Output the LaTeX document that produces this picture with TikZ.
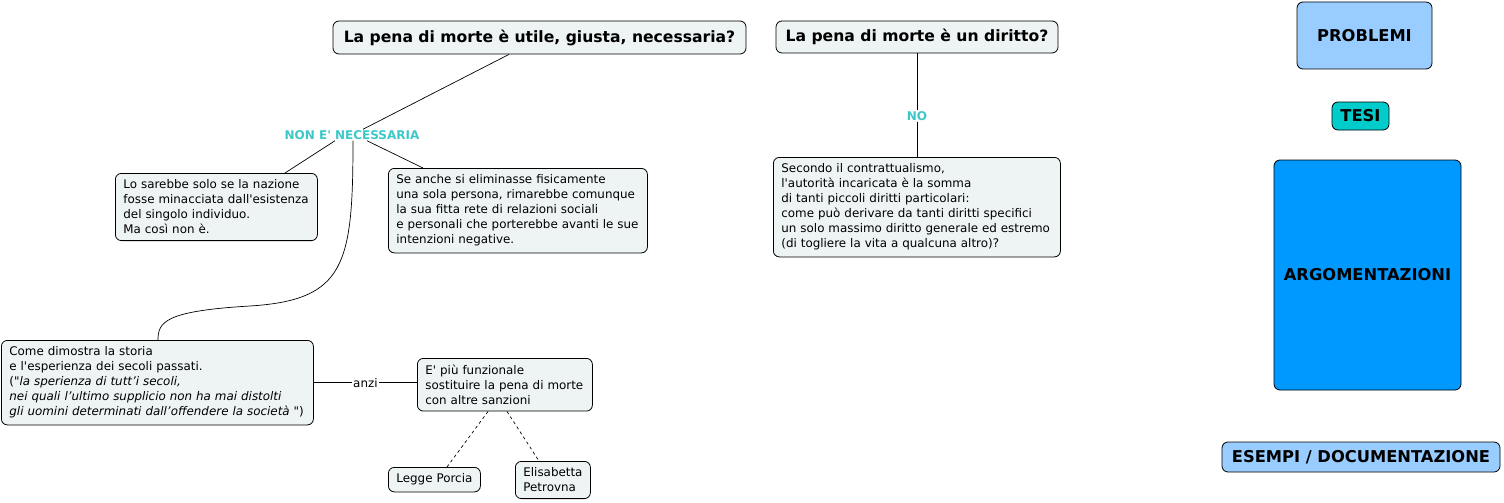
\documentclass[tikz,border=0pt]{standalone}
\usepackage{fontspec}
\setmainfont{DejaVu Sans}[Ligatures=TeXOff]
\usetikzlibrary{positioning}
\definecolor{boxfill}{HTML}{EEF4F4}
\definecolor{lblue}{HTML}{99CCFF}
\definecolor{teal1}{HTML}{00CCCC}
\definecolor{dblue}{HTML}{0099FF}
\definecolor{lbl}{HTML}{3CC8C8}
\begin{document}
\begin{tikzpicture}[x=1pt,y=-1pt,
  box/.style={draw=black, fill=boxfill, rounded corners=6pt, line width=0.8pt, align=left, inner xsep=8pt, inner ysep=6.5pt, font=\fontsize{11.9}{15}\selectfont, anchor=north west},
  title/.style={draw=black, fill=boxfill, rounded corners=6pt, line width=0.8pt, font=\fontsize{15.6}{18}\selectfont\bfseries},
  legend/.style={draw=black, rounded corners=6pt, line width=0.8pt, font=\fontsize{16.3}{18}\selectfont\bfseries},
  lab/.style={text=lbl, font=\fontsize{12}{14}\selectfont\bfseries, inner sep=1pt},
  conn/.style={line width=0.7pt}]
\useasboundingbox (0,0) rectangle (1504,503);

% titles
\node[title, minimum width=413pt, minimum height=33pt] (t1) at (539.5,37.5) {La pena di morte è utile, giusta, necessaria?};
\node[title, minimum width=282pt, minimum height=32pt] (t2) at (917,37) {La pena di morte è un diritto?};

% legend
\node[legend, fill=lblue, minimum width=135pt, minimum height=67pt] (prob) at (1364.5,35.5) {PROBLEMI};
\node[legend, fill=teal1, minimum width=57pt, minimum height=28pt] (tesi) at (1360.5,116) {TESI};
\node[legend, fill=dblue, minimum width=187pt, minimum height=230pt] (arg) at (1367.5,275) {ARGOMENTAZIONI};
\node[legend, fill=lblue, minimum width=278pt, minimum height=30pt] (esempi) at (1361,457) {ESEMPI / DOCUMENTAZIONE};

% labels
\node[lab] (nonnec) at (352,135) {NON E' NECESSARIA};
\node[lab] (no) at (917,116) {NO};

% boxes
\node[box, text width=186pt] (b1) at (115,173) {Lo sarebbe solo se la nazione\\fosse minacciata dall'esistenza\\del singolo individuo.\\Ma così non è.};
\node[box, text width=243pt] (b2) at (388,168) {Se anche si eliminasse fisicamente\\una sola persona, rimarebbe comunque\\la sua fitta rete di relazioni sociali\\e personali che porterebbe avanti le sue\\intenzioni negative.};
\node[box, text width=296pt] (b3) at (1,340) {Come dimostra la storia\\e l'esperienza dei secoli passati.\\("\textit{la sperienza di tutt’i secoli,}\\\textit{nei quali l’ultimo supplicio non ha mai distolti}\\\textit{gli uomini determinati dall’offendere la società} ")};
\node[box, text width=159pt] (b4) at (417,358) {E' più funzionale\\sostituire la pena di morte\\con altre sanzioni};
\node[box, text width=76pt] (b5) at (388,467) {Legge Porcia};
\node[box, text width=59pt] (b6) at (515,461) {Elisabetta\\Petrovna};
\node[box, text width=271pt] (b7) at (773,157) {Secondo il contrattualismo,\\l'autorità incaricata è la somma\\di tanti piccoli diritti particolari:\\come può derivare da tanti diritti specifici\\un solo massimo diritto generale ed estremo\\(di togliere la vita a qualcuna altro)?};

% connectors
\draw[conn] (t1.south -| 509,0) -- (nonnec.north -| 363,0);
\draw[conn] (nonnec.south -| 335,0) -- (b1.north -| 285,0);
\draw[conn] (nonnec.south -| 367,0) -- (b2.north -| 423,0);
\draw[conn] (nonnec.south -| 353,0) .. controls (353,265) and (345,300) .. (250,306) .. controls (165,311) and (158,322) .. (b3.north -| 158,0);
\draw[conn] (b3.east) -- node[fill=white, inner sep=1pt, font=\fontsize{11.9}{13}\selectfont] (anzi) {anzi} (b4.west |- b3.east);
\draw[conn, dashed] (b4.south -| 488,0) -- (b5.north -| 447,0);
\draw[conn, dashed] (b4.south -| 507,0) -- (b6.north -| 539,0);
\draw[conn] (t2.south) -- (no.north);
\draw[conn] (no.south) -- (b7.north -| no.south);
\end{tikzpicture}
\end{document}
